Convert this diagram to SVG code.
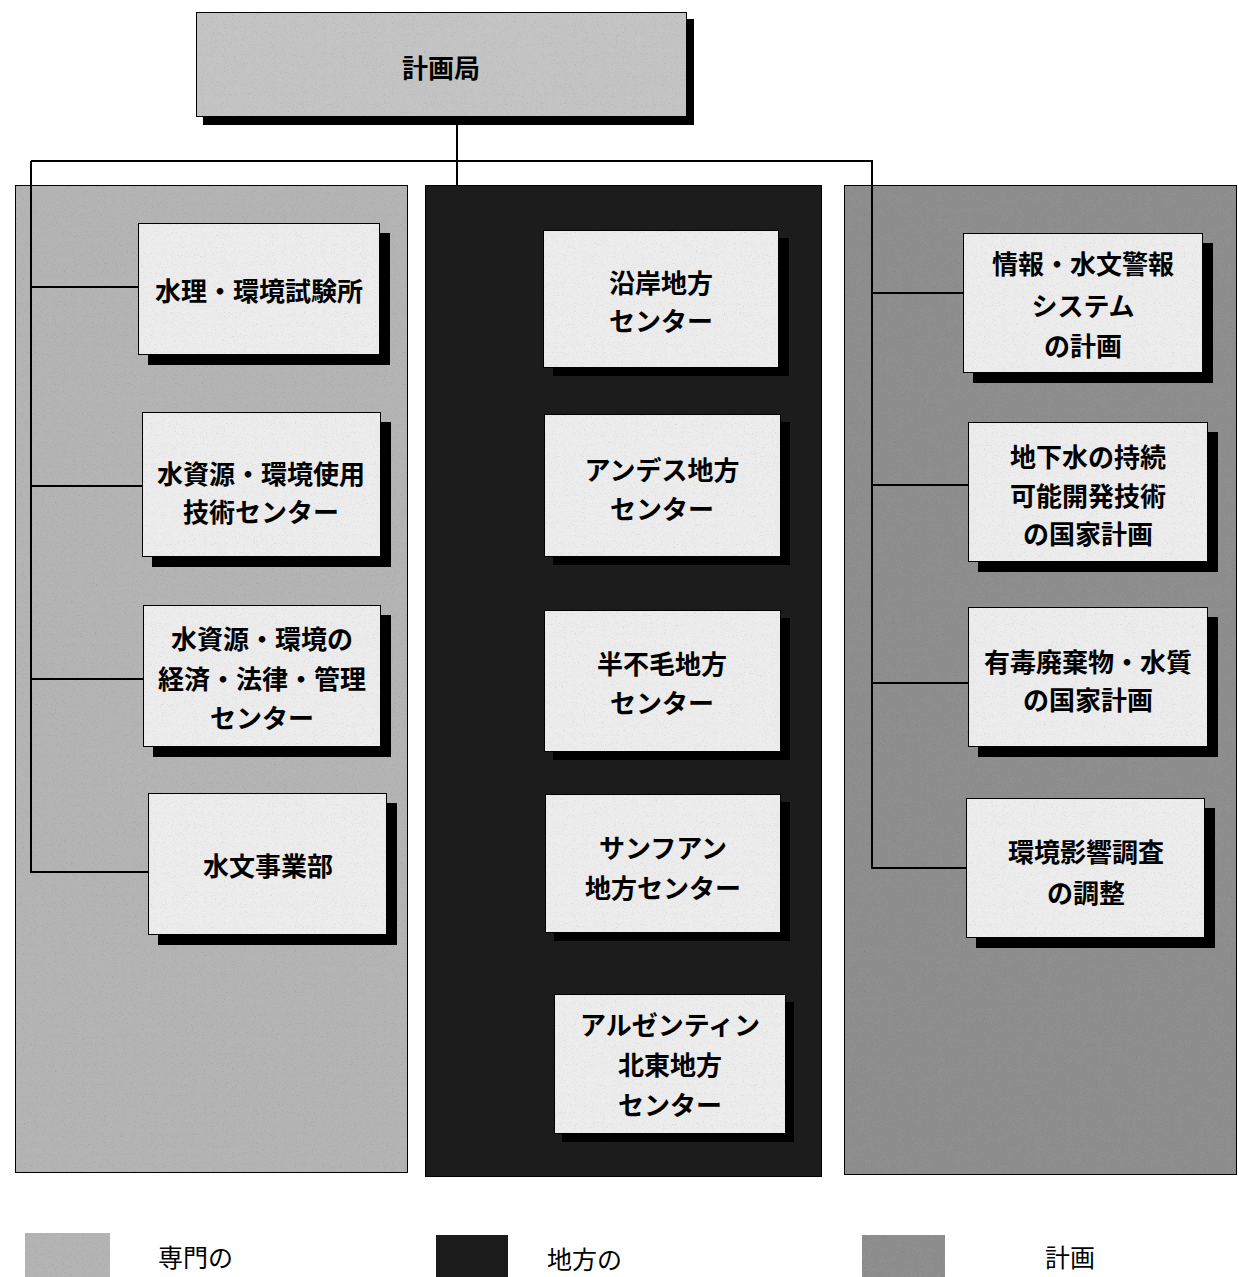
<svg xmlns="http://www.w3.org/2000/svg" width="1239" height="1277" viewBox="0 0 1239 1277">
<defs>
<filter id="grain" x="0" y="0" width="100%" height="100%">
<feTurbulence type="fractalNoise" baseFrequency="0.9" numOctaves="2" seed="4" result="t"/>
<feColorMatrix in="t" type="saturate" values="0" result="g"/>
<feComponentTransfer in="g" result="g2">
<feFuncR type="linear" slope="0.7" intercept="0.68"/>
<feFuncG type="linear" slope="0.7" intercept="0.68"/>
<feFuncB type="linear" slope="0.7" intercept="0.68"/>
<feFuncA type="linear" slope="0" intercept="1"/>
</feComponentTransfer>
<feBlend in="SourceGraphic" in2="g2" mode="multiply" result="b"/>
<feComposite in="b" in2="SourceGraphic" operator="in"/>
</filter>
</defs>
<style>
.pl{fill:#b4b4b4;stroke:#000;stroke-width:2;filter:url(#grain)}
.pm{fill:#1c1c1c;stroke:#000;stroke-width:2;filter:url(#grain)}
.pr{fill:#8e8e8e;stroke:#000;stroke-width:2;filter:url(#grain)}
.box{fill:#ececec;stroke:#000;stroke-width:2;filter:url(#grain)}
.top{fill:#c4c4c4;stroke:#000;stroke-width:2;filter:url(#grain)}
.sh{fill:#000}
.c{fill:none;stroke:#000;stroke-width:2}
text{font-family:"Noto Sans CJK JP","Noto Sans CJK SC",sans-serif;font-size:26px;font-weight:700;fill:#000;text-anchor:middle;dominant-baseline:central}
.lg{font-weight:400;font-size:25px;text-anchor:start}
</style>
<rect width="1239" height="1277" fill="#fff"/>

<g id="panels">
<rect class="pl" x="15" y="185" width="393" height="988"/>
<rect class="pm" x="425" y="185" width="397" height="992"/>
<rect class="pr" x="844" y="185" width="393" height="990"/>
</g>

<g id="connectors">
<path class="c" d="M457 117V185"/>
<path class="c" d="M31 161H873"/>
<path class="c" d="M31 161V872H148"/>
<path class="c" d="M31 287H138M31 486H142M31 679H143"/>
<path class="c" d="M872 161V868H966"/>
<path class="c" d="M872 293H963M872 485H968M872 683H968"/>
</g>

<g id="n-top">
<rect class="sh" x="203" y="19" width="491" height="106"/>
<rect class="top" x="196" y="12" width="491" height="105"/>
<text x="441" y="66">計画局</text>
</g>

<g id="n-l1">
<rect class="sh" x="148" y="233" width="242" height="132"/>
<rect class="box" x="138" y="223" width="242" height="132"/>
<text x="259" y="289">水理・環境試験所</text>
</g>
<g id="n-l2">
<rect class="sh" x="152" y="422" width="239" height="145"/>
<rect class="box" x="142" y="412" width="239" height="145"/>
<text x="261" y="472">水資源・環境使用</text>
<text x="261" y="510">技術センター</text>
</g>
<g id="n-l3">
<rect class="sh" x="153" y="615" width="238" height="142"/>
<rect class="box" x="143" y="605" width="238" height="142"/>
<text x="262" y="637">水資源・環境の</text>
<text x="262" y="677">経済・法律・管理</text>
<text x="262" y="716">センター</text>
</g>
<g id="n-l4">
<rect class="sh" x="158" y="803" width="239" height="142"/>
<rect class="box" x="148" y="793" width="239" height="142"/>
<text x="268" y="864">水文事業部</text>
</g>

<g id="n-m1">
<rect class="sh" x="553" y="238" width="236" height="138"/>
<rect class="box" x="543" y="230" width="236" height="138"/>
<text x="661" y="281">沿岸地方</text>
<text x="661" y="319">センター</text>
</g>
<g id="n-m2">
<rect class="sh" x="553" y="422" width="237" height="143"/>
<rect class="box" x="544" y="414" width="237" height="143"/>
<text x="662" y="468">アンデス地方</text>
<text x="662" y="507">センター</text>
</g>
<g id="n-m3">
<rect class="sh" x="553" y="618" width="237" height="142"/>
<rect class="box" x="544" y="610" width="237" height="142"/>
<text x="662" y="662">半不毛地方</text>
<text x="662" y="701">センター</text>
</g>
<g id="n-m4">
<rect class="sh" x="554" y="802" width="236" height="139"/>
<rect class="box" x="545" y="794" width="236" height="139"/>
<text x="663" y="846">サンフアン</text>
<text x="663" y="886">地方センター</text>
</g>
<g id="n-m5">
<rect class="sh" x="562" y="1002" width="232" height="140"/>
<rect class="box" x="554" y="994" width="232" height="140"/>
<text x="670" y="1023">アルゼンティン</text>
<text x="670" y="1063">北東地方</text>
<text x="670" y="1103">センター</text>
</g>

<g id="n-r1">
<rect class="sh" x="973" y="243" width="240" height="140"/>
<rect class="box" x="963" y="233" width="240" height="140"/>
<text x="1083" y="262">情報・水文警報</text>
<text x="1083" y="304">システム</text>
<text x="1083" y="344">の計画</text>
</g>
<g id="n-r2">
<rect class="sh" x="978" y="432" width="240" height="140"/>
<rect class="box" x="968" y="422" width="240" height="140"/>
<text x="1088" y="455">地下水の持続</text>
<text x="1088" y="494">可能開発技術</text>
<text x="1088" y="532">の国家計画</text>
</g>
<g id="n-r3">
<rect class="sh" x="978" y="617" width="240" height="140"/>
<rect class="box" x="968" y="607" width="240" height="140"/>
<text x="1088" y="660">有毒廃棄物・水質</text>
<text x="1088" y="698">の国家計画</text>
</g>
<g id="n-r4">
<rect class="sh" x="976" y="808" width="239" height="140"/>
<rect class="box" x="966" y="798" width="239" height="140"/>
<text x="1086" y="850">環境影響調査</text>
<text x="1086" y="891">の調整</text>
</g>

<g id="legend">
<rect x="25" y="1233" width="85" height="44" fill="#b4b4b4" filter="url(#grain)"/>
<text class="lg" x="158" y="1256">専門の</text>
<rect x="436" y="1235" width="72" height="42" fill="#1c1c1c" filter="url(#grain)"/>
<text class="lg" x="547" y="1258">地方の</text>
<rect x="862" y="1235" width="83" height="42" fill="#8e8e8e" filter="url(#grain)"/>
<text class="lg" x="1045" y="1256">計画</text>
</g>
</svg>
